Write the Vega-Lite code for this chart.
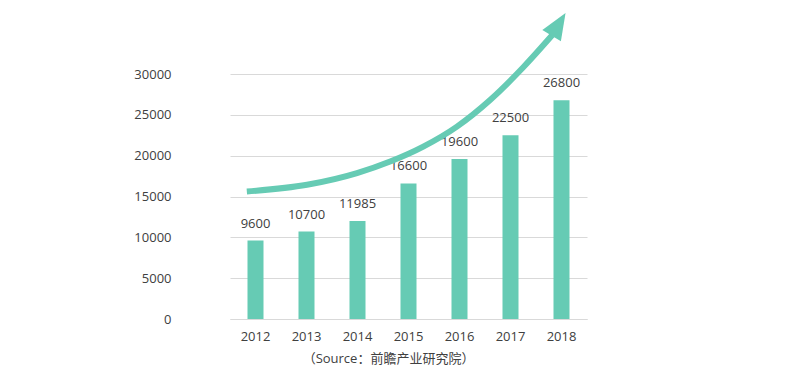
{
  "$schema": "https://vega.github.io/schema/vega-lite/v6.json",
  "width": 357,
  "height": 245,
  "autosize": {"type": "none"},
  "padding": {"left": 230, "top": 74, "right": 213, "bottom": 72},
  "config": {"view": {"stroke": null}, "font": "Open Sans, Noto Sans CJK SC"},
  "datasets": {
    "bars": [
      {"year": "2012", "value": 9600},
      {"year": "2013", "value": 10700},
      {"year": "2014", "value": 11985},
      {"year": "2015", "value": 16600},
      {"year": "2016", "value": 19600},
      {"year": "2017", "value": 22500},
      {"year": "2018", "value": 26800}
    ],
    "curve": [
      {"u": 0.33, "v": 15610},
      {"u": 1.51, "v": 16430},
      {"u": 2.49, "v": 17860},
      {"u": 3.14, "v": 19280},
      {"u": 3.79, "v": 21110},
      {"u": 4.45, "v": 23560},
      {"u": 5.10, "v": 26820},
      {"u": 5.76, "v": 30890},
      {"u": 6.32, "v": 34770}
    ],
    "head": [
      {"u": 6.44, "v": 36060}
    ]
  },
  "layer": [
    {
      "layer": [
        {
          "data": {"name": "bars"},
          "mark": {"type": "bar", "color": "#66CBB4"},
          "encoding": {
            "x": {
              "field": "year", "type": "ordinal",
              "scale": {"paddingInner": 0.686, "paddingOuter": 0.343},
              "axis": {
                "labelAngle": 0, "domainColor": "#d9d9d9", "ticks": false,
                "labelPadding": 11, "labelFontSize": 13, "labelColor": "#404040",
                "title": "（Source：前瞻产业研究院）", "titleFontSize": 13,
                "titleFontWeight": "normal", "titleColor": "#404040",
                "titleX": 158, "titleY": 39, "titleBaseline": "middle", "titleAlign": "center"
              }
            },
            "y": {
              "field": "value", "type": "quantitative",
              "scale": {"domain": [0, 30000]},
              "axis": {
                "format": "d", "values": [0, 5000, 10000, 15000, 20000, 25000, 30000],
                "grid": true, "gridColor": "#d9d9d9", "domain": false, "ticks": false,
                "labelPadding": 59, "labelFontSize": 13, "labelColor": "#404040", "title": null
              }
            }
          }
        },
        {
          "data": {"name": "bars"},
          "mark": {"type": "text", "dy": -17, "baseline": "middle", "fontSize": 13, "color": "#404040"},
          "encoding": {
            "x": {"field": "year", "type": "ordinal"},
            "y": {"field": "value", "type": "quantitative"},
            "text": {"field": "value", "type": "quantitative", "format": "d"}
          }
        }
      ]
    },
    {
      "data": {"name": "curve"},
      "mark": {"type": "line", "color": "#66CBB4", "strokeWidth": 6, "interpolate": "monotone", "clip": false},
      "encoding": {
        "x": {"field": "u", "type": "quantitative", "scale": {"domain": [0, 7], "nice": false, "zero": false}, "axis": null},
        "y": {"field": "v", "type": "quantitative"}
      }
    },
    {
      "data": {"name": "head"},
      "mark": {"type": "point", "shape": "M0,-1L-0.8,0.96L0.8,0.96Z", "size": 740, "filled": true, "opacity": 1, "color": "#66CBB4", "angle": 31.5, "clip": false},
      "encoding": {
        "x": {"field": "u", "type": "quantitative", "scale": {"domain": [0, 7], "nice": false, "zero": false}, "axis": null},
        "y": {"field": "v", "type": "quantitative"}
      }
    }
  ],
  "resolve": {"scale": {"x": "independent"}, "axis": {"x": "independent"}}
}
